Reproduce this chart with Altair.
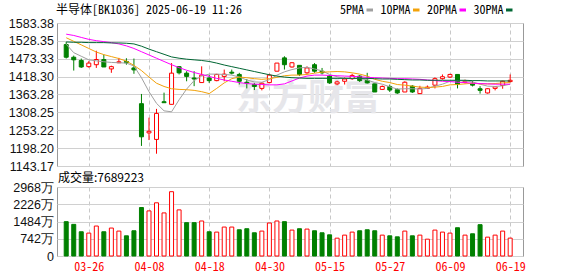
import altair as alt
import numpy as np
import pandas as pd

# ---------------- data ----------------
dates = ["03-21", "03-24", "03-25", "03-26", "03-27", "03-28", "03-31",
         "04-01", "04-02", "04-03", "04-07", "04-08", "04-09", "04-10", "04-11",
         "04-14", "04-15", "04-16", "04-17", "04-18", "04-21", "04-22", "04-23",
         "04-24", "04-25", "04-28", "04-29", "04-30",
         "05-06", "05-07", "05-08", "05-09", "05-12", "05-13", "05-14", "05-15",
         "05-16", "05-19", "05-20", "05-21", "05-22", "05-23", "05-26", "05-27",
         "05-28", "05-29", "05-30",
         "06-03", "06-04", "06-05", "06-06", "06-09", "06-10", "06-11", "06-12",
         "06-13", "06-16", "06-17", "06-18", "06-19"]

opens = [1517, 1478, 1468, 1449, 1455, 1471, 1442, 1461, 1465, 1445,
         1335, 1245, 1225, 1341, 1333, 1449, 1429, 1414, 1400, 1414,
         1406, 1419, 1432, 1425, 1401, 1394, 1382, 1400, 1435, 1476,
         1448, 1453, 1430, 1455, 1435, 1420, 1396, 1404, 1412, 1420,
         1407, 1396, 1379, 1388, 1378, 1371, 1389, 1366, 1382, 1392,
         1412, 1417, 1425, 1401, 1398, 1381, 1368, 1382, 1391, 1403]
highs = [1525, 1483, 1474, 1466, 1498, 1486, 1452, 1476, 1475, 1474,
         1365, 1292, 1319, 1369, 1460, 1450, 1435, 1435, 1450, 1423,
         1427, 1440, 1440, 1430, 1411, 1399, 1401, 1427, 1460, 1481,
         1463, 1453, 1450, 1460, 1445, 1423, 1406, 1416, 1427, 1423,
         1430, 1396, 1391, 1394, 1382, 1404, 1392, 1390, 1391, 1416,
         1425, 1427, 1425, 1409, 1406, 1389, 1383, 1389, 1406, 1425]
lows = [1474, 1437, 1445, 1446, 1445, 1448, 1430, 1460, 1455, 1427,
        1205, 1223, 1181, 1338, 1333, 1425, 1404, 1389, 1399, 1399,
        1404, 1404, 1425, 1394, 1382, 1377, 1376, 1398, 1435, 1440,
        1446, 1420, 1427, 1430, 1425, 1396, 1392, 1394, 1408, 1402,
        1397, 1371, 1377, 1371, 1365, 1371, 1368, 1366, 1381, 1382,
        1409, 1414, 1382, 1397, 1388, 1366, 1366, 1376, 1381, 1401]
closes = [1478, 1470, 1448, 1460, 1471, 1448, 1449, 1464, 1461, 1439,
          1233, 1250, 1305, 1338, 1429, 1430, 1419, 1411, 1423, 1406,
          1425, 1426, 1429, 1404, 1398, 1388, 1398, 1423, 1460, 1455,
          1461, 1425, 1445, 1435, 1430, 1399, 1402, 1411, 1422, 1406,
          1399, 1371, 1388, 1377, 1368, 1401, 1371, 1382, 1386, 1412,
          1418, 1425, 1394, 1404, 1392, 1376, 1381, 1387, 1404, 1407]

# volume in 万
volumes = [1477, 1361, 1043, 985, 1289, 1043, 1202, 1072, 869, 1086,
           2085, 1940, 2288, 1853, 2766, 1984, 1434, 1434, 1506, 1043,
           1028, 1245, 1245, 1129, 1173, 999, 1072, 1419, 1506, 1477,
           1115, 1173, 1158, 1086, 999, 912, 767, 898, 1028, 1086,
           1129, 1086, 898, 869, 825, 1072, 869, 898, 724, 1115,
           1028, 985, 1216, 898, 956, 1347, 811, 898, 1072, 769]

ma5 = [1518, 1492, 1481, 1470, 1467, 1464, 1462, 1461, 1460, 1451,
       1415, 1372, 1336, 1313, 1310, 1347, 1380, 1406, 1420, 1426,
       1426, 1425, 1423, 1417, 1408, 1402, 1401, 1409, 1423, 1433,
       1440, 1445, 1447, 1442, 1436, 1425, 1418, 1413, 1412, 1413,
       1408, 1400, 1395, 1387, 1380, 1381, 1381, 1380, 1382, 1389,
       1395, 1404, 1406, 1405, 1402, 1395, 1389, 1388, 1390, 1395]
ma10 = [1538, 1527, 1516, 1505, 1494, 1486, 1480, 1474, 1466, 1453,
        1437, 1417, 1398, 1388, 1381, 1379, 1378, 1376, 1372, 1366,
        1382, 1399, 1412, 1417, 1415, 1412, 1410, 1412, 1416, 1421,
        1423, 1423, 1425, 1429, 1432, 1433, 1434, 1433, 1430, 1426,
        1420, 1410, 1404, 1400, 1394, 1392, 1389, 1386, 1385, 1386,
        1388, 1393, 1394, 1396, 1398, 1396, 1396, 1397, 1399, 1400]
ma20 = [1549, 1545, 1539, 1533, 1529, 1526, 1523, 1519, 1513, 1505,
        1495, 1485, 1475, 1465, 1455, 1446, 1438, 1431, 1425, 1419,
        1413, 1408, 1404, 1400, 1397, 1395, 1394, 1393, 1393, 1396,
        1405, 1414, 1420, 1423, 1423, 1422, 1421, 1420, 1419, 1418,
        1416, 1415, 1414, 1413, 1412, 1412, 1411, 1410, 1408, 1406,
        1404, 1403, 1401, 1400, 1398, 1397, 1396, 1395, 1395, 1395]
ma30 = [1525, 1524, 1524, 1523, 1523, 1523, 1522, 1522, 1521, 1519,
        1512, 1503, 1495, 1487, 1479, 1475, 1472, 1470, 1468, 1465,
        1460, 1454, 1449, 1444, 1439, 1434, 1429, 1424, 1420, 1417,
        1415, 1414, 1413, 1413, 1413, 1413, 1413, 1413, 1413, 1413,
        1413, 1412, 1411, 1411, 1410, 1409, 1408, 1408, 1407, 1407,
        1407, 1407, 1407, 1407, 1406, 1406, 1405, 1405, 1405, 1405]

price_ticks = [1143.17, 1198.20, 1253.22, 1308.25, 1363.28,
               1418.30, 1473.33, 1528.35, 1583.38]
vol_ticks = [0, 742, 1484, 2226, 2968]
x_tick_dates = ["03-26", "04-08", "04-18", "04-30", "05-15", "05-27", "06-09", "06-19"]

ma_names = ["5PMA", "10PMA", "20PMA", "30PMA"]
ma_colors = ["#a0a0a0", "#f2a20a", "#ff00ff", "#006633"]

title_text = "半导体[BK1036] 2025-06-19 11:26"
vol_title = "成交量:7689223"
watermark = "东方财富"

# ---------------- styling ----------------
UP = "#ff0000"
DOWN = "#008000"
GRID = "#d0d0d0"
MONO = "Noto Sans Mono CJK SC, Noto Sans CJK SC, DejaVu Sans Mono, monospace"
SANS = "Liberation Sans, Arial, sans-serif"
CJK = "Noto Sans CJK SC, sans-serif"

W = 466
H_PRICE = 143
H_VOL = 69

n = len(dates)
df = pd.DataFrame({"i": range(n), "date": dates, "open": opens, "high": highs,
                   "low": lows, "close": closes, "vol": volumes})
up = df["close"] > df["open"]
df["stroke"] = np.where(up, UP, DOWN)
df["fill"] = np.where(up, "#ffffff", DOWN)
vup = df["close"] > df["close"].shift(1)
df["vstroke"] = np.where(vup, UP, DOWN)
df["vfill"] = np.where(vup, "#ffffff", DOWN)

ma_df = pd.concat([
    pd.DataFrame({"i": range(n), "value": vals, "name": nm})
    for nm, vals in zip(ma_names, [ma5, ma10, ma20, ma30])
])

tick_idx = [dates.index(d) for d in x_tick_dates]
label_expr = "[" + ",".join("'%s'" % d for d in dates) + "][datum.value]"

xs = alt.Scale(domain=[-0.56, n + 0.04], nice=False, zero=False)
ys = alt.Scale(domain=[price_ticks[0], price_ticks[-1]], nice=False, zero=False)
vs = alt.Scale(domain=[vol_ticks[0], vol_ticks[-1]], nice=False)

x_axis_price = alt.Axis(values=tick_idx, grid=True, gridDash=[4, 3], gridColor="#c8c8c8",
                        labels=False, ticks=False, domain=False, title=None)
x_axis_vol = alt.Axis(values=tick_idx, grid=True, gridDash=[4, 3], gridColor="#c8c8c8",
                      labelExpr=label_expr, labelColor=UP, labelFont=MONO, labelFontSize=12,
                      labelPadding=5, ticks=False, domain=False, title=None,
                      labelFlush=False, labelOverlap=False)
y_axis_price = alt.Axis(values=price_ticks, grid=True, gridColor=GRID, ticks=False, domain=False,
                        labelExpr="format(datum.value, '.2f')", labelFont=SANS,
                        labelFontSize=12.5, labelColor="#111111", labelPadding=3.5,
                        minExtent=56, maxExtent=56, title=None, labelFlush=False)
y_axis_vol = alt.Axis(values=vol_ticks, grid=True, gridColor=GRID, ticks=False, domain=False,
                      labelExpr="datum.value == 0 ? '0' : datum.value + '万'",
                      labelFont=SANS, labelFontSize=12.5, labelColor="#111111",
                      labelPadding=3.5, minExtent=56, maxExtent=56, title=None,
                      labelFlush=False)

X_P = alt.X("i:Q", scale=xs, axis=x_axis_price)
X_V = alt.X("i:Q", scale=xs, axis=x_axis_vol)

# ---------------- price panel ----------------
wm = alt.Chart(pd.DataFrame({"t": [watermark]})).mark_text(
    font=CJK, fontSize=36, fontWeight="bold", color="#e6e6ea", align="center",
    baseline="middle"
).encode(text="t:N", x=alt.value(251), y=alt.value(76))

wicks = alt.Chart(df).mark_rule(strokeWidth=1).encode(
    x=X_P,
    y=alt.Y("low:Q", scale=ys, axis=y_axis_price),
    y2="high:Q",
    color=alt.Color("stroke:N", scale=None),
)
bodies = alt.Chart(df).mark_bar(size=4, strokeWidth=1).encode(
    x=X_P,
    y=alt.Y("open:Q", scale=ys, axis=y_axis_price),
    y2="close:Q",
    fill=alt.Fill("fill:N", scale=None),
    stroke=alt.Stroke("stroke:N", scale=None),
)
lines = alt.Chart(ma_df).mark_line(strokeWidth=1).encode(
    x=X_P,
    y=alt.Y("value:Q", scale=ys, axis=y_axis_price),
    color=alt.Color("name:N", scale=alt.Scale(domain=ma_names, range=ma_colors), legend=None),
    detail="name:N",
)

title_layer = alt.Chart(pd.DataFrame({"t": [title_text]})).mark_text(
    font=MONO, fontSize=12, color="#000000", align="left", baseline="middle"
).encode(text="t:N", x=alt.value(-1), y=alt.value(-13))

legend_layers = []
cw = 6.0
lx = 283.0
for nm, colr in zip(ma_names, ma_colors):
    legend_layers.append(
        alt.Chart(pd.DataFrame({"t": [nm]})).mark_text(
            font=MONO, fontSize=12, color="#000000", align="left", baseline="middle"
        ).encode(text="t:N", x=alt.value(lx), y=alt.value(-13))
    )
    sx1 = lx + len(nm) * cw + 2.5
    sx2 = sx1 + 6.5
    legend_layers.append(
        alt.Chart(pd.DataFrame({"t": [nm]})).mark_rule(strokeWidth=3, color=colr).encode(
            x=alt.value(sx1), x2=alt.value(sx2), y=alt.value(-13)
        )
    )
    lx = sx2 + 7.5

price = alt.layer(wm, wicks, bodies, lines, title_layer, *legend_layers).properties(
    width=W, height=H_PRICE
)

# ---------------- volume panel ----------------
vbars = alt.Chart(df).mark_bar(size=4, strokeWidth=1).encode(
    x=X_V,
    y=alt.Y("vol:Q", scale=vs, axis=y_axis_vol),
    fill=alt.Fill("vfill:N", scale=None),
    stroke=alt.Stroke("vstroke:N", scale=None),
)
vtitle = alt.Chart(pd.DataFrame({"t": [vol_title]})).mark_text(
    font=CJK, fontSize=12, color="#000000", align="left", baseline="middle"
).encode(text="t:N", x=alt.value(1), y=alt.value(-9))

volume = alt.layer(vbars, vtitle).properties(width=W, height=H_VOL)

chart = alt.vconcat(price, volume, spacing=21, bounds="flush").properties(
    padding={"left": 0, "top": 3, "right": 0, "bottom": 0},
    background="#ffffff",
).configure_view(stroke="#999999", strokeWidth=1)

chart.save("out.html", embed_options={"renderer": "svg", "actions": False})
